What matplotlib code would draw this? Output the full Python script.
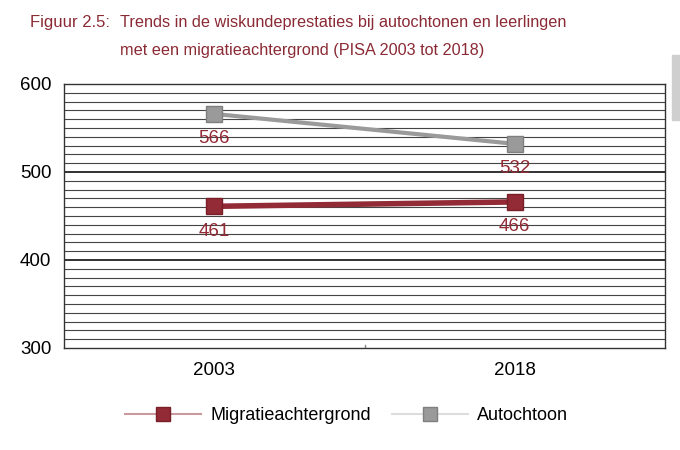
import matplotlib
matplotlib.use("Agg")
import matplotlib.pyplot as plt
from matplotlib.lines import Line2D
from matplotlib.patches import Rectangle

# data
years = ["2003", "2018"]
migratie = [461, 466]
autochtoon = [566, 532]
series_names = ["Migratieachtergrond", "Autochtoon"]

RED = "#922b35"
GREY = "#9a9a9a"
TITLE = "#8a2a34"

plt.rcParams["font.family"] = ["Liberation Sans", "DejaVu Sans"]

fig = plt.figure(figsize=(6.8, 4.5), dpi=100)
ax = fig.add_axes([64 / 680, 1 - 348 / 450, 601 / 680, 264 / 450])

x = range(len(years))
ax.set_xlim(-0.5, 1.5)
ax.set_ylim(300, 600)

# gridlines: every 10, heavier at each 100
for v in range(310, 600, 10):
    major = v % 100 == 0
    ax.axhline(v, color="#222222" if major else "#444444",
               lw=1.3 if major else 0.8, zorder=0)

ax.plot(x, autochtoon, color=GREY, lw=3, marker="s", ms=11,
        mfc=GREY, mec="#7f7f7f", zorder=3)
ax.plot(x, migratie, color=RED, lw=4, marker="s", ms=11,
        mfc=RED, mec="#7a1f28", zorder=3)

for xi, v in zip(x, autochtoon):
    ax.annotate(str(v), (xi, v), xytext=(0, -18), textcoords="offset points",
                ha="center", va="center", color=RED, fontsize=13.5)
for xi, v in zip(x, migratie):
    ax.annotate(str(v), (xi, v), xytext=(0, -18), textcoords="offset points",
                ha="center", va="center", color=RED, fontsize=13.5)

ax.set_xticks(list(x))
ax.set_xticklabels(years, fontsize=13.5)
ax.tick_params(axis="x", length=0, pad=10)
ax.set_yticks([300, 400, 500, 600])
ax.tick_params(axis="y", length=0, labelsize=13.5, pad=9)
# small category separator tick
ax.plot([0.5, 0.5], [300, 303], color="#888888", lw=1, zorder=1)

for s in ax.spines.values():
    s.set_color("#333333")
    s.set_linewidth(1.0)

# title
fig.text(30 / 680, 1 - 22 / 450, "Figuur 2.5:", color=TITLE, fontsize=12,
         va="center", ha="left")
fig.text(120 / 680, 1 - 22 / 450,
         "Trends in de wiskundeprestaties bij autochtonen en leerlingen",
         color=TITLE, fontsize=11.7, va="center", ha="left")
fig.text(120 / 680, 1 - 50 / 450,
         "met een migratieachtergrond (PISA 2003 tot 2018)",
         color=TITLE, fontsize=11.7, va="center", ha="left")

# legend
handles = [
    Line2D([], [], color="#c89a9e", lw=1.5, marker="s", ms=10, mfc=RED, mec="#7a1f28"),
    Line2D([], [], color="#dddddd", lw=1.5, marker="s", ms=10, mfc=GREY, mec="#7f7f7f"),
]
fig.legend(handles, series_names, loc="center", bbox_to_anchor=(0.51, 1 - 416 / 450),
           ncol=2, frameon=False, fontsize=13, handlelength=4.2, columnspacing=1.2,
           handletextpad=0.5)

# scrollbar artifact at right edge
fig.patches.append(Rectangle((672 / 680, 1 - 120 / 450), 8 / 680, 65 / 450,
                             transform=fig.transFigure, color="#cfcfcf"))

fig.savefig("out.png", dpi=100)
